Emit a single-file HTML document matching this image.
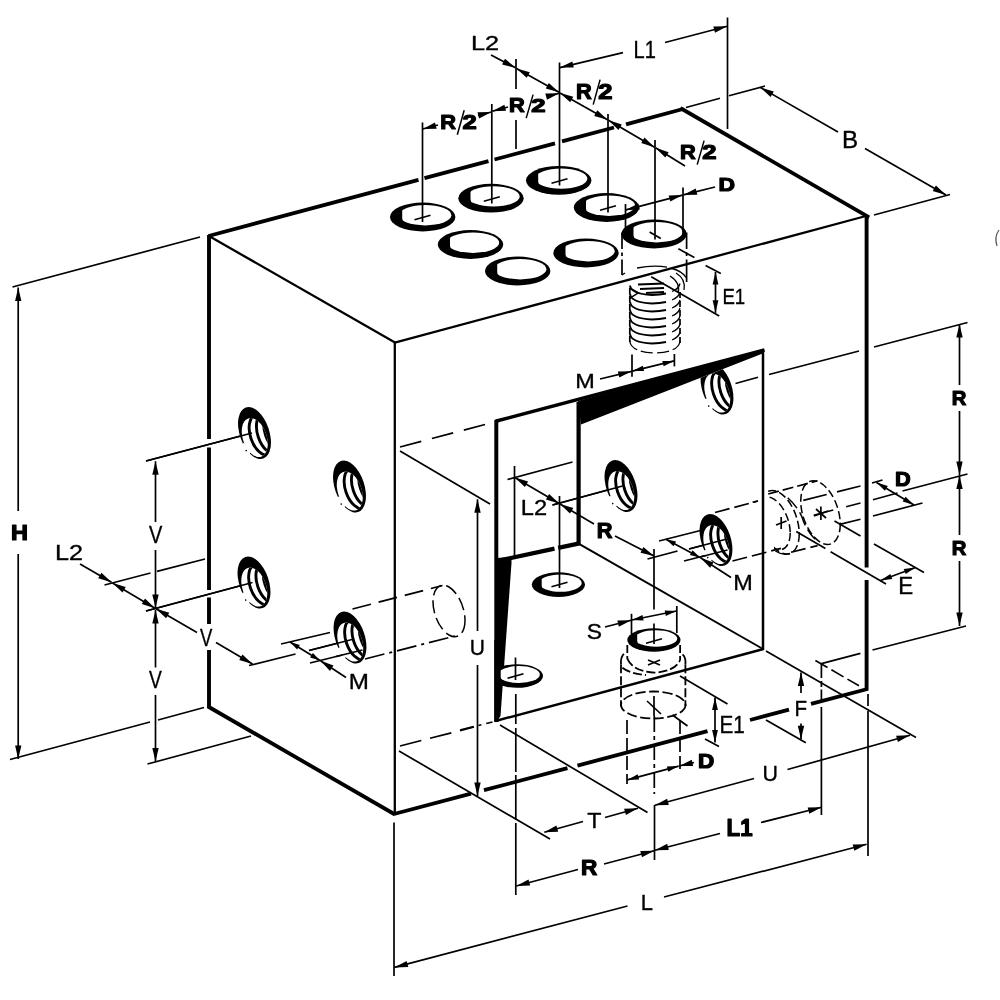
<!DOCTYPE html>
<html><head><meta charset="utf-8"><title>Manifold block dimensions</title>
<style>
html,body{margin:0;padding:0;background:#fff;}
svg{display:block;will-change:transform;font-family:"Liberation Sans",sans-serif;}
</style></head><body>
<svg width="1000" height="1000" viewBox="0 0 1000 1000" stroke="#000" fill="none">
<rect x="0" y="0" width="1000" height="1000" fill="#fff" stroke="none"/>
<line x1="208.5" y1="236.0" x2="418.5" y2="179.8" stroke-width="3.8" stroke-linecap="butt"/>
<line x1="424.5" y1="178.2" x2="488.5" y2="161.1" stroke-width="3.8" stroke-linecap="butt"/>
<line x1="494.5" y1="159.5" x2="555.0" y2="143.3" stroke-width="3.8" stroke-linecap="butt"/>
<line x1="562.0" y1="141.4" x2="614.0" y2="127.5" stroke-width="3.8" stroke-linecap="butt"/>
<line x1="626.0" y1="124.3" x2="683.0" y2="109.0" stroke-width="3.8" stroke-linecap="butt"/>
<line x1="682.0" y1="109.0" x2="867.5" y2="216.5" stroke-width="3.8" stroke-linecap="square"/>
<line x1="866.6" y1="215.0" x2="866.6" y2="567.5" stroke-width="3.9" stroke-linecap="butt"/>
<line x1="866.6" y1="580.0" x2="866.6" y2="690.5" stroke-width="3.9" stroke-linecap="butt"/>
<line x1="209.0" y1="235.0" x2="209.0" y2="439.0" stroke-width="3.9" stroke-linecap="butt"/>
<line x1="209.0" y1="447.5" x2="209.0" y2="590.0" stroke-width="3.9" stroke-linecap="butt"/>
<line x1="209.0" y1="597.5" x2="209.0" y2="624.0" stroke-width="3.9" stroke-linecap="butt"/>
<line x1="209.0" y1="650.0" x2="209.0" y2="708.0" stroke-width="3.9" stroke-linecap="butt"/>
<line x1="208.0" y1="706.5" x2="395.0" y2="814.5" stroke-width="3.8" stroke-linecap="butt"/>
<line x1="394.0" y1="814.0" x2="471.0" y2="793.7" stroke-width="3.8" stroke-linecap="butt"/>
<line x1="484.0" y1="790.2" x2="567.5" y2="768.2" stroke-width="3.8" stroke-linecap="butt"/>
<line x1="577.5" y1="765.6" x2="707.5" y2="731.2" stroke-width="3.8" stroke-linecap="butt"/>
<line x1="750.0" y1="720.0" x2="789.0" y2="709.7" stroke-width="3.8" stroke-linecap="butt"/>
<line x1="811.0" y1="703.9" x2="867.5" y2="689.0" stroke-width="3.8" stroke-linecap="butt"/>
<line x1="209.0" y1="236.0" x2="395.0" y2="342.6" stroke-width="2.3" stroke-linecap="butt"/>
<line x1="394.8" y1="342.6" x2="866.0" y2="216.0" stroke-width="2.3" stroke-linecap="butt"/>
<line x1="394.8" y1="342.0" x2="394.8" y2="814.0" stroke-width="2.3" stroke-linecap="butt"/>
<line x1="495.5" y1="421.3" x2="764.5" y2="350.0" stroke-width="3.5" stroke-linecap="butt"/>
<line x1="496.3" y1="420.0" x2="496.3" y2="722.0" stroke-width="4.0" stroke-linecap="butt"/>
<line x1="763.0" y1="350.0" x2="763.0" y2="650.0" stroke-width="2.5" stroke-linecap="butt"/>
<line x1="495.5" y1="721.0" x2="763.5" y2="649.0" stroke-width="2.4" stroke-linecap="butt"/>
<line x1="578.6" y1="402.0" x2="578.6" y2="545.0" stroke-width="4.2" stroke-linecap="butt"/>
<line x1="497.0" y1="561.0" x2="554.5" y2="548.7" stroke-width="4.3" stroke-linecap="butt"/>
<line x1="558.2" y1="547.9" x2="579.5" y2="543.4" stroke-width="4.3" stroke-linecap="butt"/>
<line x1="579.0" y1="543.8" x2="763.0" y2="649.0" stroke-width="2.0" stroke-linecap="butt"/>
<polygon points="578,401 764,349.5 764,353 581,424.5" fill="#000" stroke="none"/>
<polygon points="497,558 511.5,557 511.5,563 500.5,716 497,721" fill="#000" stroke="none"/>
<line x1="400.0" y1="447.0" x2="492.5" y2="422.5" stroke-width="1.7" stroke-dasharray="22 11" stroke-linecap="butt"/>
<line x1="400.0" y1="746.0" x2="474.0" y2="727.0" stroke-width="1.7" stroke-dasharray="22 9" stroke-linecap="butt"/>
<line x1="460.0" y1="730.0" x2="492.5" y2="722.0" stroke-width="1.7" stroke-dasharray="14 5 3 5" stroke-linecap="butt"/>
<clipPath id="fh1"><path d="M402.2,201.6 L457.4,201.6 L457.4,225.9 L412.6,225.9 Q402.2,225.9 402.2,217.9 Z"/></clipPath>
<ellipse cx="422.7" cy="217.0" rx="32.7" ry="14.4" fill="#000" stroke="none"/>
<ellipse cx="425.2" cy="215.2" rx="26.2" ry="10.2" fill="#fff" stroke="none" clip-path="url(#fh1)"/>
<clipPath id="fh2"><path d="M470.5,182.8 L525.7,182.8 L525.7,207.1 L480.9,207.1 Q470.5,207.1 470.5,199.1 Z"/></clipPath>
<ellipse cx="491.0" cy="198.2" rx="32.7" ry="14.4" fill="#000" stroke="none"/>
<ellipse cx="493.5" cy="196.4" rx="26.2" ry="10.2" fill="#fff" stroke="none" clip-path="url(#fh2)"/>
<clipPath id="fh3"><path d="M538.2,165.0 L593.4,165.0 L593.4,189.3 L548.6,189.3 Q538.2,189.3 538.2,181.3 Z"/></clipPath>
<ellipse cx="558.7" cy="180.4" rx="32.7" ry="14.4" fill="#000" stroke="none"/>
<ellipse cx="561.2" cy="178.6" rx="26.2" ry="10.2" fill="#fff" stroke="none" clip-path="url(#fh3)"/>
<clipPath id="fh4"><path d="M586.0,192.1 L641.2,192.1 L641.2,216.4 L596.4,216.4 Q586.0,216.4 586.0,208.4 Z"/></clipPath>
<ellipse cx="606.5" cy="207.5" rx="32.7" ry="14.4" fill="#000" stroke="none"/>
<ellipse cx="609.0" cy="205.7" rx="26.2" ry="10.2" fill="#fff" stroke="none" clip-path="url(#fh4)"/>
<clipPath id="fh5"><path d="M450.0,229.1 L505.2,229.1 L505.2,253.4 L460.4,253.4 Q450.0,253.4 450.0,245.4 Z"/></clipPath>
<ellipse cx="470.5" cy="244.5" rx="32.7" ry="14.4" fill="#000" stroke="none"/>
<ellipse cx="473.0" cy="242.7" rx="26.2" ry="10.2" fill="#fff" stroke="none" clip-path="url(#fh5)"/>
<clipPath id="fh6"><path d="M497.2,255.6 L552.4,255.6 L552.4,279.9 L507.6,279.9 Q497.2,279.9 497.2,271.9 Z"/></clipPath>
<ellipse cx="517.7" cy="271.0" rx="32.7" ry="14.4" fill="#000" stroke="none"/>
<ellipse cx="520.2" cy="269.2" rx="26.2" ry="10.2" fill="#fff" stroke="none" clip-path="url(#fh6)"/>
<clipPath id="fh7"><path d="M565.5,237.6 L620.7,237.6 L620.7,261.9 L575.9,261.9 Q565.5,261.9 565.5,253.9 Z"/></clipPath>
<ellipse cx="586.0" cy="253.0" rx="32.7" ry="14.4" fill="#000" stroke="none"/>
<ellipse cx="588.5" cy="251.2" rx="26.2" ry="10.2" fill="#fff" stroke="none" clip-path="url(#fh7)"/>
<clipPath id="fh8"><path d="M633.5,218.6 L688.7,218.6 L688.7,242.9 L643.9,242.9 Q633.5,242.9 633.5,234.9 Z"/></clipPath>
<ellipse cx="654.0" cy="234.0" rx="32.7" ry="14.4" fill="#000" stroke="none"/>
<ellipse cx="656.5" cy="232.2" rx="26.2" ry="10.2" fill="#fff" stroke="none" clip-path="url(#fh8)"/>
<clipPath id="fh9"><path d="M541.7,571.3 L587.0,571.3 L587.0,592.3 L550.2,592.3 Q541.7,592.3 541.7,585.8 Z"/></clipPath>
<ellipse cx="558.4" cy="584.6" rx="26.6" ry="12.3" fill="#000" stroke="none"/>
<ellipse cx="560.4" cy="583.1" rx="21.3" ry="8.7" fill="#fff" stroke="none" clip-path="url(#fh9)"/>
<clipPath id="fh10"><path d="M637.2,627.3 L682.5,627.3 L682.5,647.3 L645.7,647.3 Q637.2,647.3 637.2,640.8 Z"/></clipPath>
<ellipse cx="653.9" cy="640.0" rx="26.6" ry="11.7" fill="#000" stroke="none"/>
<ellipse cx="655.9" cy="638.5" rx="21.3" ry="8.3" fill="#fff" stroke="none" clip-path="url(#fh10)"/>
<clipPath id="jamb"><rect x="497" y="640" width="100" height="80"/></clipPath>
<g clip-path="url(#jamb)">
<clipPath id="fh11"><path d="M500.7,663.2 L545.0,663.2 L545.0,683.4 L509.0,683.4 Q500.7,683.4 500.7,677.0 Z"/></clipPath>
<ellipse cx="517.0" cy="676.0" rx="26.0" ry="11.8" fill="#000" stroke="none"/>
<ellipse cx="519.0" cy="674.5" rx="20.8" ry="8.4" fill="#fff" stroke="none" clip-path="url(#fh11)"/>
</g>
<line x1="496.3" y1="640.0" x2="496.3" y2="722.0" stroke-width="4.0" stroke-linecap="butt"/>
<line x1="422.5" y1="122.5" x2="422.5" y2="222.0" stroke-width="1.7" stroke-linecap="butt"/>
<line x1="491.8" y1="104.0" x2="491.8" y2="203.5" stroke-width="1.7" stroke-linecap="butt"/>
<line x1="516.0" y1="59.0" x2="516.0" y2="89.0" stroke-width="1.7" stroke-linecap="butt"/>
<line x1="516.0" y1="120.0" x2="516.0" y2="149.0" stroke-width="1.7" stroke-linecap="butt"/>
<line x1="559.5" y1="62.5" x2="559.5" y2="185.5" stroke-width="1.7" stroke-linecap="butt"/>
<line x1="608.0" y1="114.0" x2="608.0" y2="212.5" stroke-width="1.7" stroke-linecap="butt"/>
<line x1="655.0" y1="140.0" x2="655.0" y2="239.5" stroke-width="1.7" stroke-linecap="butt"/>
<line x1="727.5" y1="17.5" x2="727.5" y2="129.0" stroke-width="1.7" stroke-linecap="butt"/>
<line x1="414.5" y1="219.7" x2="430.5" y2="215.3" stroke-width="1.7" stroke-linecap="butt"/>
<line x1="483.8" y1="201.2" x2="499.8" y2="196.8" stroke-width="1.7" stroke-linecap="butt"/>
<line x1="551.5" y1="183.2" x2="567.5" y2="178.8" stroke-width="1.7" stroke-linecap="butt"/>
<line x1="600.0" y1="210.2" x2="616.0" y2="205.8" stroke-width="1.7" stroke-linecap="butt"/>
<line x1="491.0" y1="55.0" x2="515.5" y2="67.8" stroke-width="1.7" stroke-linecap="butt"/>
<polygon points="515.5,67.8 502.1,64.4 505.0,58.7" fill="#000" stroke="none"/>
<line x1="516.5" y1="68.4" x2="559.0" y2="92.3" stroke-width="1.7" stroke-linecap="butt"/>
<polygon points="516.5,68.4 529.8,72.2 526.7,77.8" fill="#000" stroke="none"/>
<polygon points="559.0,92.3 545.7,88.5 548.8,82.9" fill="#000" stroke="none"/>
<line x1="560.0" y1="92.9" x2="607.5" y2="119.7" stroke-width="1.7" stroke-linecap="butt"/>
<polygon points="560.0,92.9 573.3,96.7 570.2,102.3" fill="#000" stroke="none"/>
<polygon points="607.5,119.7 594.2,115.9 597.3,110.3" fill="#000" stroke="none"/>
<line x1="608.5" y1="120.3" x2="654.5" y2="147.2" stroke-width="1.7" stroke-linecap="butt"/>
<polygon points="608.5,120.3 621.8,124.4 618.5,129.9" fill="#000" stroke="none"/>
<polygon points="654.5,147.2 641.2,143.1 644.5,137.6" fill="#000" stroke="none"/>
<line x1="685.0" y1="166.0" x2="655.5" y2="147.8" stroke-width="1.7" stroke-linecap="butt"/>
<polygon points="655.5,147.8 668.7,152.2 665.3,157.6" fill="#000" stroke="none"/>
<line x1="438.0" y1="125.0" x2="422.8" y2="129.0" stroke-width="1.7" stroke-linecap="butt"/>
<polygon points="422.8,129.0 435.0,122.5 436.7,128.7" fill="#000" stroke="none"/>
<line x1="478.0" y1="115.5" x2="491.4" y2="112.0" stroke-width="1.7" stroke-linecap="butt"/>
<polygon points="491.4,112.0 479.1,118.5 477.5,112.3" fill="#000" stroke="none"/>
<line x1="508.0" y1="107.0" x2="492.2" y2="111.3" stroke-width="1.7" stroke-linecap="butt"/>
<polygon points="492.2,111.3 504.4,104.7 506.1,110.8" fill="#000" stroke="none"/>
<line x1="547.0" y1="96.5" x2="559.2" y2="93.2" stroke-width="1.7" stroke-linecap="butt"/>
<polygon points="559.2,93.2 547.0,99.8 545.3,93.6" fill="#000" stroke="none"/>
<line x1="623.0" y1="52.6" x2="559.9" y2="67.6" stroke-width="1.7" stroke-linecap="butt"/>
<polygon points="559.9,67.6 572.3,61.4 573.8,67.6" fill="#000" stroke="none"/>
<line x1="665.0" y1="42.5" x2="727.2" y2="26.2" stroke-width="1.7" stroke-linecap="butt"/>
<polygon points="727.2,26.2 715.0,32.7 713.3,26.5" fill="#000" stroke="none"/>
<line x1="686.0" y1="107.5" x2="720.0" y2="98.2" stroke-width="1.7" stroke-linecap="butt"/>
<line x1="729.0" y1="95.8" x2="765.0" y2="86.0" stroke-width="1.7" stroke-linecap="butt"/>
<line x1="838.0" y1="132.0" x2="760.5" y2="87.5" stroke-width="1.7" stroke-linecap="butt"/>
<polygon points="760.5,87.5 773.8,91.4 770.6,97.0" fill="#000" stroke="none"/>
<line x1="865.0" y1="148.5" x2="946.0" y2="195.0" stroke-width="1.7" stroke-linecap="butt"/>
<polygon points="946.0,195.0 932.7,191.1 935.9,185.5" fill="#000" stroke="none"/>
<line x1="874.0" y1="215.0" x2="950.0" y2="194.5" stroke-width="1.7" stroke-linecap="butt"/>
<line x1="625.5" y1="204.0" x2="625.5" y2="237.0" stroke-width="1.7" stroke-linecap="butt"/>
<line x1="683.0" y1="187.5" x2="683.0" y2="237.0" stroke-width="1.7" stroke-linecap="butt"/>
<line x1="625.9" y1="209.9" x2="682.6" y2="195.1" stroke-width="1.7" stroke-linecap="butt"/>
<polygon points="625.9,209.9 638.2,203.4 639.8,209.6" fill="#000" stroke="none"/>
<polygon points="682.6,195.1 670.3,201.6 668.7,195.4" fill="#000" stroke="none"/>
<line x1="715.0" y1="187.0" x2="683.4" y2="194.9" stroke-width="1.7" stroke-linecap="butt"/>
<polygon points="683.4,194.9 695.7,188.5 697.3,194.7" fill="#000" stroke="none"/>
<line x1="12.5" y1="287.0" x2="200.0" y2="237.0" stroke-width="1.7" stroke-linecap="butt"/>
<line x1="18.2" y1="511.0" x2="18.2" y2="287.5" stroke-width="1.7" stroke-linecap="butt"/>
<polygon points="18.2,287.5 21.4,301.0 15.1,301.0" fill="#000" stroke="none"/>
<line x1="18.2" y1="554.0" x2="18.2" y2="759.0" stroke-width="1.7" stroke-linecap="butt"/>
<polygon points="18.2,759.0 15.1,745.5 21.4,745.5" fill="#000" stroke="none"/>
<line x1="10.0" y1="759.5" x2="150.0" y2="722.0" stroke-width="1.7" stroke-linecap="butt"/>
<line x1="158.0" y1="720.0" x2="204.0" y2="707.5" stroke-width="1.7" stroke-linecap="butt"/>
<line x1="146.0" y1="461.0" x2="252.0" y2="433.0" stroke-width="1.7" stroke-linecap="butt"/>
<line x1="155.5" y1="522.0" x2="155.5" y2="461.3" stroke-width="1.7" stroke-linecap="butt"/>
<polygon points="155.5,461.3 158.7,474.8 152.3,474.8" fill="#000" stroke="none"/>
<line x1="155.5" y1="550.0" x2="155.5" y2="608.0" stroke-width="1.7" stroke-linecap="butt"/>
<polygon points="155.5,608.0 152.3,594.5 158.7,594.5" fill="#000" stroke="none"/>
<line x1="104.5" y1="585.0" x2="150.5" y2="573.0" stroke-width="1.7" stroke-linecap="butt"/>
<line x1="157.0" y1="571.4" x2="205.0" y2="559.0" stroke-width="1.7" stroke-linecap="butt"/>
<line x1="146.0" y1="611.0" x2="252.5" y2="582.5" stroke-width="1.7" stroke-linecap="butt"/>
<line x1="155.5" y1="667.5" x2="155.5" y2="610.0" stroke-width="1.7" stroke-linecap="butt"/>
<polygon points="155.5,610.0 158.7,623.5 152.3,623.5" fill="#000" stroke="none"/>
<line x1="155.5" y1="695.0" x2="155.5" y2="761.5" stroke-width="1.7" stroke-linecap="butt"/>
<polygon points="155.5,761.5 152.3,748.0 158.7,748.0" fill="#000" stroke="none"/>
<line x1="147.5" y1="764.0" x2="251.0" y2="736.0" stroke-width="1.7" stroke-linecap="butt"/>
<line x1="80.0" y1="564.0" x2="111.5" y2="582.3" stroke-width="1.7" stroke-linecap="butt"/>
<polygon points="111.5,582.3 98.2,578.3 101.4,572.8" fill="#000" stroke="none"/>
<line x1="112.5" y1="582.9" x2="155.0" y2="608.2" stroke-width="1.7" stroke-linecap="butt"/>
<polygon points="112.5,582.9 125.7,587.1 122.5,592.6" fill="#000" stroke="none"/>
<polygon points="155.0,608.2 141.8,604.0 145.0,598.5" fill="#000" stroke="none"/>
<line x1="197.0" y1="632.5" x2="156.0" y2="608.8" stroke-width="1.7" stroke-linecap="butt"/>
<polygon points="156.0,608.8 169.3,612.8 166.1,618.3" fill="#000" stroke="none"/>
<line x1="216.0" y1="642.5" x2="252.5" y2="664.0" stroke-width="1.7" stroke-linecap="butt"/>
<polygon points="252.5,664.0 239.2,659.9 242.5,654.4" fill="#000" stroke="none"/>
<line x1="281.0" y1="644.0" x2="330.0" y2="632.5" stroke-width="1.7" stroke-linecap="butt"/>
<line x1="249.0" y1="665.5" x2="295.5" y2="654.0" stroke-width="1.7" stroke-linecap="butt"/>
<line x1="309.0" y1="650.5" x2="360.0" y2="637.5" stroke-width="1.7" stroke-linecap="butt"/>
<line x1="310.0" y1="663.0" x2="362.5" y2="650.0" stroke-width="1.7" stroke-linecap="butt"/>
<line x1="290.0" y1="642.0" x2="320.0" y2="660.5" stroke-width="1.7" stroke-linecap="butt"/>
<polygon points="290.0,642.0 299.9,645.0 297.1,649.5" fill="#000" stroke="none"/>
<polygon points="320.0,660.5 310.1,657.5 312.9,653.0" fill="#000" stroke="none"/>
<line x1="346.0" y1="677.5" x2="320.5" y2="660.8" stroke-width="1.7" stroke-linecap="butt"/>
<polygon points="320.5,660.8 333.5,665.5 330.0,670.9" fill="#000" stroke="none"/>
<line x1="352.5" y1="609.0" x2="442.5" y2="585.5" stroke-width="1.7" stroke-dasharray="19 8" stroke-linecap="butt"/>
<line x1="365.0" y1="659.0" x2="455.0" y2="636.0" stroke-width="1.7" stroke-dasharray="20 5 3 5" stroke-linecap="butt"/>
<ellipse cx="0" cy="0" rx="24" ry="24" transform="matrix(0.667,0.385,0,1,449,611)" fill="none" stroke-width="1.5" stroke-dasharray="13 5" vector-effect="non-scaling-stroke"/>
<line x1="400.0" y1="451.0" x2="490.0" y2="504.0" stroke-width="1.7" stroke-linecap="butt"/>
<line x1="477.5" y1="631.0" x2="477.5" y2="499.3" stroke-width="1.7" stroke-linecap="butt"/>
<polygon points="477.5,499.3 480.7,512.8 474.3,512.8" fill="#000" stroke="none"/>
<line x1="477.5" y1="665.0" x2="477.5" y2="796.0" stroke-width="1.7" stroke-linecap="butt"/>
<polygon points="477.5,796.0 474.3,782.5 480.7,782.5" fill="#000" stroke="none"/>
<line x1="399.0" y1="751.0" x2="550.0" y2="839.0" stroke-width="1.7" stroke-linecap="butt"/>
<line x1="514.5" y1="466.0" x2="514.5" y2="556.0" stroke-width="1.7" stroke-linecap="butt"/>
<line x1="507.5" y1="479.5" x2="572.5" y2="462.0" stroke-width="1.7" stroke-linecap="butt"/>
<line x1="559.5" y1="496.0" x2="559.5" y2="588.0" stroke-width="1.7" stroke-linecap="butt"/>
<line x1="552.5" y1="505.0" x2="622.5" y2="486.0" stroke-width="1.7" stroke-linecap="butt"/>
<line x1="514.8" y1="477.6" x2="559.2" y2="503.4" stroke-width="1.7" stroke-linecap="butt"/>
<polygon points="514.8,477.6 528.1,481.6 524.9,487.1" fill="#000" stroke="none"/>
<polygon points="559.2,503.4 545.9,499.4 549.1,493.9" fill="#000" stroke="none"/>
<line x1="594.0" y1="524.0" x2="560.0" y2="504.0" stroke-width="1.7" stroke-linecap="butt"/>
<polygon points="560.0,504.0 573.3,508.1 570.0,513.6" fill="#000" stroke="none"/>
<line x1="615.0" y1="536.0" x2="654.0" y2="556.0" stroke-width="1.7" stroke-linecap="butt"/>
<polygon points="654.0,556.0 640.5,552.7 643.4,547.0" fill="#000" stroke="none"/>
<line x1="647.5" y1="559.0" x2="677.5" y2="551.0" stroke-width="1.7" stroke-linecap="butt"/>
<line x1="689.0" y1="549.0" x2="725.0" y2="539.5" stroke-width="1.7" stroke-linecap="butt"/>
<line x1="654.0" y1="549.0" x2="654.0" y2="609.6" stroke-width="1.7" stroke-linecap="butt"/>
<line x1="654.0" y1="623.6" x2="654.0" y2="644.0" stroke-width="1.7" stroke-linecap="butt"/>
<line x1="551.5" y1="586.7" x2="567.5" y2="582.3" stroke-width="1.7" stroke-linecap="butt"/>
<line x1="646.0" y1="643.2" x2="662.0" y2="638.8" stroke-width="1.7" stroke-linecap="butt"/>
<line x1="515.5" y1="657.5" x2="515.5" y2="680.0" stroke-width="1.7" stroke-linecap="butt"/>
<line x1="507.5" y1="678.2" x2="523.5" y2="673.8" stroke-width="1.7" stroke-linecap="butt"/>
<line x1="659.0" y1="541.0" x2="702.5" y2="530.0" stroke-width="1.7" stroke-linecap="butt"/>
<line x1="684.0" y1="561.0" x2="727.5" y2="550.0" stroke-width="1.7" stroke-linecap="butt"/>
<line x1="666.0" y1="539.2" x2="700.0" y2="557.4" stroke-width="1.7" stroke-linecap="butt"/>
<polygon points="666.0,539.2 676.1,541.5 673.5,546.3" fill="#000" stroke="none"/>
<polygon points="700.0,557.4 689.9,555.1 692.5,550.3" fill="#000" stroke="none"/>
<line x1="731.0" y1="577.5" x2="700.5" y2="557.7" stroke-width="1.7" stroke-linecap="butt"/>
<polygon points="700.5,557.7 713.6,562.4 710.1,567.7" fill="#000" stroke="none"/>
<g>
<g transform="translate(254.5,433.0) rotate(-18.8)">
<clipPath id="tw1"><ellipse cx="-1.2" cy="4.4" rx="11.9" ry="20.2"/></clipPath>
<ellipse rx="14.76" ry="26.97" fill="#000" stroke="none"/>
<ellipse cx="-1.2" cy="4.4" rx="11.9" ry="20.2" fill="#fff" stroke="none"/>
<g clip-path="url(#tw1)" fill="none" stroke="#000" stroke-width="2.9">
<ellipse cx="6.8" cy="4.3" rx="11.9" ry="21.2"/>
<ellipse cx="14.2" cy="5.2" rx="11.9" ry="21.2"/>
<ellipse cx="21.6" cy="6.1" rx="11.9" ry="21.2"/>
</g>
<path d="M-14.4,6.1 L-13.2,12.2 L-11.1,17.7" stroke="#fff" stroke-width="3" fill="none"/>
<circle cx="-13.5" cy="14" r="0.8" fill="#000" stroke="none"/>
</g></g>
<g>
<g transform="translate(349.5,486.5) rotate(-18.8)">
<clipPath id="tw2"><ellipse cx="-1.2" cy="4.4" rx="11.9" ry="20.2"/></clipPath>
<ellipse rx="14.76" ry="26.97" fill="#000" stroke="none"/>
<ellipse cx="-1.2" cy="4.4" rx="11.9" ry="20.2" fill="#fff" stroke="none"/>
<g clip-path="url(#tw2)" fill="none" stroke="#000" stroke-width="2.9">
<ellipse cx="6.8" cy="4.3" rx="11.9" ry="21.2"/>
<ellipse cx="14.2" cy="5.2" rx="11.9" ry="21.2"/>
<ellipse cx="21.6" cy="6.1" rx="11.9" ry="21.2"/>
</g>
<path d="M-14.4,6.1 L-13.2,12.2 L-11.1,17.7" stroke="#fff" stroke-width="3" fill="none"/>
<circle cx="-13.5" cy="14" r="0.8" fill="#000" stroke="none"/>
</g></g>
<g>
<g transform="translate(254.0,582.5) rotate(-18.8)">
<clipPath id="tw3"><ellipse cx="-1.2" cy="4.4" rx="11.9" ry="20.2"/></clipPath>
<ellipse rx="14.76" ry="26.97" fill="#000" stroke="none"/>
<ellipse cx="-1.2" cy="4.4" rx="11.9" ry="20.2" fill="#fff" stroke="none"/>
<g clip-path="url(#tw3)" fill="none" stroke="#000" stroke-width="2.9">
<ellipse cx="6.8" cy="4.3" rx="11.9" ry="21.2"/>
<ellipse cx="14.2" cy="5.2" rx="11.9" ry="21.2"/>
<ellipse cx="21.6" cy="6.1" rx="11.9" ry="21.2"/>
</g>
<path d="M-14.4,6.1 L-13.2,12.2 L-11.1,17.7" stroke="#fff" stroke-width="3" fill="none"/>
<circle cx="-13.5" cy="14" r="0.8" fill="#000" stroke="none"/>
</g></g>
<g>
<g transform="translate(350.0,637.5) rotate(-18.8)">
<clipPath id="tw4"><ellipse cx="-1.2" cy="4.4" rx="11.9" ry="20.2"/></clipPath>
<ellipse rx="14.76" ry="26.97" fill="#000" stroke="none"/>
<ellipse cx="-1.2" cy="4.4" rx="11.9" ry="20.2" fill="#fff" stroke="none"/>
<g clip-path="url(#tw4)" fill="none" stroke="#000" stroke-width="2.9">
<ellipse cx="6.8" cy="4.3" rx="11.9" ry="21.2"/>
<ellipse cx="14.2" cy="5.2" rx="11.9" ry="21.2"/>
<ellipse cx="21.6" cy="6.1" rx="11.9" ry="21.2"/>
</g>
<path d="M-14.4,6.1 L-13.2,12.2 L-11.1,17.7" stroke="#fff" stroke-width="3" fill="none"/>
<circle cx="-13.5" cy="14" r="0.8" fill="#000" stroke="none"/>
</g></g>
<g>
<g transform="translate(621.0,486.0) rotate(-18.8)">
<clipPath id="tw5"><ellipse cx="-1.2" cy="4.4" rx="11.9" ry="20.2"/></clipPath>
<ellipse rx="14.76" ry="26.97" fill="#000" stroke="none"/>
<ellipse cx="-1.2" cy="4.4" rx="11.9" ry="20.2" fill="#fff" stroke="none"/>
<g clip-path="url(#tw5)" fill="none" stroke="#000" stroke-width="2.9">
<ellipse cx="6.8" cy="4.3" rx="11.9" ry="21.2"/>
<ellipse cx="14.2" cy="5.2" rx="11.9" ry="21.2"/>
<ellipse cx="21.6" cy="6.1" rx="11.9" ry="21.2"/>
</g>
<path d="M-14.4,6.1 L-13.2,12.2 L-11.1,17.7" stroke="#fff" stroke-width="3" fill="none"/>
<circle cx="-13.5" cy="14" r="0.8" fill="#000" stroke="none"/>
</g></g>
<g>
<g transform="translate(716.0,540.0) rotate(-18.8)">
<clipPath id="tw6"><ellipse cx="-1.2" cy="4.4" rx="11.9" ry="20.2"/></clipPath>
<ellipse rx="14.76" ry="26.97" fill="#000" stroke="none"/>
<ellipse cx="-1.2" cy="4.4" rx="11.9" ry="20.2" fill="#fff" stroke="none"/>
<g clip-path="url(#tw6)" fill="none" stroke="#000" stroke-width="2.9">
<ellipse cx="6.8" cy="4.3" rx="11.9" ry="21.2"/>
<ellipse cx="14.2" cy="5.2" rx="11.9" ry="21.2"/>
<ellipse cx="21.6" cy="6.1" rx="11.9" ry="21.2"/>
</g>
<path d="M-14.4,6.1 L-13.2,12.2 L-11.1,17.7" stroke="#fff" stroke-width="3" fill="none"/>
<circle cx="-13.5" cy="14" r="0.8" fill="#000" stroke="none"/>
</g></g>
<clipPath id="wedgeclip"><polygon points="690,381.9 750,358.5 750,430 690,430"/></clipPath>
<g clip-path="url(#wedgeclip)">
<g transform="translate(717.0,388.5) rotate(-18.8)">
<clipPath id="tw7"><ellipse cx="-1.2" cy="4.4" rx="11.9" ry="20.2"/></clipPath>
<ellipse rx="14.76" ry="26.97" fill="#000" stroke="none"/>
<ellipse cx="-1.2" cy="4.4" rx="11.9" ry="20.2" fill="#fff" stroke="none"/>
<g clip-path="url(#tw7)" fill="none" stroke="#000" stroke-width="2.9">
<ellipse cx="6.8" cy="4.3" rx="11.9" ry="21.2"/>
<ellipse cx="14.2" cy="5.2" rx="11.9" ry="21.2"/>
<ellipse cx="21.6" cy="6.1" rx="11.9" ry="21.2"/>
</g>
<path d="M-14.4,6.1 L-13.2,12.2 L-11.1,17.7" stroke="#fff" stroke-width="3" fill="none"/>
<circle cx="-13.5" cy="14" r="0.8" fill="#000" stroke="none"/>
</g></g>
<line x1="146.0" y1="461.0" x2="252.0" y2="433.0" stroke-width="1.7" stroke-linecap="butt"/>
<line x1="146.0" y1="611.0" x2="252.5" y2="582.5" stroke-width="1.7" stroke-linecap="butt"/>
<line x1="309.0" y1="650.5" x2="352.0" y2="639.5" stroke-width="1.7" stroke-linecap="butt"/>
<line x1="552.5" y1="505.0" x2="622.5" y2="486.0" stroke-width="1.7" stroke-linecap="butt"/>
<line x1="689.0" y1="549.0" x2="725.0" y2="539.5" stroke-width="1.7" stroke-linecap="butt"/>
<line x1="700.0" y1="557.0" x2="727.5" y2="550.0" stroke-width="1.7" stroke-linecap="butt"/>
<line x1="336.0" y1="656.5" x2="362.5" y2="650.0" stroke-width="1.7" stroke-linecap="butt"/>
<line x1="715.0" y1="512.5" x2="758.0" y2="501.0" stroke-width="1.7" stroke-dasharray="15 5" stroke-linecap="butt"/>
<line x1="768.2" y1="494.0" x2="817.6" y2="480.8" stroke-width="1.7" stroke-dasharray="11 4" stroke-linecap="butt"/>
<line x1="732.5" y1="561.0" x2="781.0" y2="548.4" stroke-width="1.7" stroke-dasharray="15 5" stroke-linecap="butt"/>
<line x1="791.0" y1="552.3" x2="817.6" y2="545.6" stroke-width="1.7" stroke-dasharray="15 5" stroke-linecap="butt"/>
<circle r="29.7" transform="matrix(0.665,0.39,0,1,820.5,512.6)" fill="none" stroke-width="1.5" stroke-dasharray="8 3.5" vector-effect="non-scaling-stroke"/>
<clipPath id="bclip"><polygon points="768,480 810,480 810,560 774,560 774,535 768,535"/></clipPath>
<g clip-path="url(#bclip)"><circle r="29.7" transform="matrix(0.665,0.39,0,1,779.5,522.3)" fill="none" stroke-width="1.5" stroke-dasharray="8 3.5" vector-effect="non-scaling-stroke"/>
<circle r="24.6" transform="matrix(0.68,0.39,0,1,773.5,523.5)" fill="none" stroke-width="1.5" stroke-dasharray="8 3.5" vector-effect="non-scaling-stroke"/></g>
<path d="M790,553.4 Q782,555.5 775.4,551" fill="none" stroke-width="1.5"/>
<path d="M787.7,497.7 Q797,506 802,517 Q806,530 815,539.3" fill="none" stroke-width="1.5" stroke-dasharray="14 5"/>
<line x1="776.0" y1="525.0" x2="786.5" y2="521.0" stroke-width="1.7" stroke-linecap="butt"/>
<line x1="781.2" y1="517.0" x2="781.2" y2="529.0" stroke-width="1.7" stroke-linecap="butt"/>
<line x1="814.0" y1="516.0" x2="828.0" y2="511.0" stroke-width="1.7" stroke-linecap="butt"/>
<line x1="820.9" y1="506.5" x2="820.9" y2="520.0" stroke-width="1.7" stroke-linecap="butt"/>
<line x1="816.0" y1="509.0" x2="826.0" y2="518.0" stroke-width="1.7" stroke-linecap="butt"/>
<line x1="735.5" y1="383.5" x2="758.0" y2="377.3" stroke-width="1.7" stroke-linecap="butt"/>
<line x1="769.0" y1="374.5" x2="859.0" y2="351.0" stroke-width="1.7" stroke-linecap="butt"/>
<line x1="874.0" y1="347.0" x2="967.5" y2="322.5" stroke-width="1.7" stroke-linecap="butt"/>
<line x1="752.6" y1="502.3" x2="757.8" y2="501.0" stroke-width="1.7" stroke-linecap="butt"/>
<line x1="803.3" y1="500.3" x2="826.7" y2="494.5" stroke-width="1.7" stroke-linecap="butt"/>
<line x1="837.0" y1="491.9" x2="860.5" y2="486.0" stroke-width="1.7" stroke-linecap="butt"/>
<line x1="872.0" y1="483.0" x2="882.5" y2="480.0" stroke-width="1.7" stroke-linecap="butt"/>
<line x1="813.7" y1="515.3" x2="833.2" y2="510.0" stroke-width="1.7" stroke-linecap="butt"/>
<line x1="846.2" y1="506.8" x2="860.5" y2="503.0" stroke-width="1.7" stroke-linecap="butt"/>
<line x1="873.0" y1="499.7" x2="897.5" y2="493.0" stroke-width="1.7" stroke-linecap="butt"/>
<line x1="839.7" y1="524.4" x2="860.5" y2="519.2" stroke-width="1.7" stroke-linecap="butt"/>
<line x1="873.0" y1="516.0" x2="922.5" y2="503.0" stroke-width="1.7" stroke-linecap="butt"/>
<line x1="902.5" y1="491.0" x2="967.5" y2="474.0" stroke-width="1.7" stroke-linecap="butt"/>
<line x1="876.5" y1="482.4" x2="914.0" y2="505.0" stroke-width="1.7" stroke-linecap="butt"/>
<polygon points="876.5,482.4 887.8,485.9 884.9,490.7" fill="#000" stroke="none"/>
<polygon points="914.0,505.0 902.7,501.5 905.6,496.7" fill="#000" stroke="none"/>
<line x1="834.5" y1="521.0" x2="860.5" y2="536.0" stroke-width="1.7" stroke-linecap="butt"/>
<line x1="874.0" y1="544.0" x2="924.0" y2="572.5" stroke-width="1.7" stroke-linecap="butt"/>
<line x1="796.2" y1="531.5" x2="825.4" y2="548.4" stroke-width="1.7" stroke-linecap="butt"/>
<line x1="830.6" y1="551.7" x2="886.0" y2="584.0" stroke-width="1.7" stroke-linecap="butt"/>
<line x1="880.5" y1="580.5" x2="915.5" y2="567.5" stroke-width="1.7" stroke-linecap="butt"/>
<polygon points="880.5,580.5 890.3,573.9 892.3,579.1" fill="#000" stroke="none"/>
<polygon points="915.5,567.5 905.7,574.1 903.7,568.9" fill="#000" stroke="none"/>
<line x1="959.5" y1="385.0" x2="959.5" y2="324.0" stroke-width="1.7" stroke-linecap="butt"/>
<polygon points="959.5,324.0 962.7,337.5 956.3,337.5" fill="#000" stroke="none"/>
<line x1="959.5" y1="411.0" x2="959.5" y2="475.0" stroke-width="1.7" stroke-linecap="butt"/>
<polygon points="959.5,475.0 956.3,461.5 962.7,461.5" fill="#000" stroke="none"/>
<line x1="959.5" y1="535.0" x2="959.5" y2="475.5" stroke-width="1.7" stroke-linecap="butt"/>
<polygon points="959.5,475.5 962.7,489.0 956.3,489.0" fill="#000" stroke="none"/>
<line x1="959.5" y1="561.0" x2="959.5" y2="626.0" stroke-width="1.7" stroke-linecap="butt"/>
<polygon points="959.5,626.0 956.3,612.5 962.7,612.5" fill="#000" stroke="none"/>
<line x1="872.5" y1="650.0" x2="966.0" y2="626.0" stroke-width="1.7" stroke-linecap="butt"/>
<line x1="821.4" y1="663.6" x2="860.4" y2="653.4" stroke-width="1.7" stroke-linecap="butt"/>
<line x1="622.0" y1="232.5" x2="622.0" y2="275.0" stroke-width="1.7" stroke-dasharray="16.5 3.5 3.5 3.5 30 0" stroke-linecap="butt"/>
<line x1="686.6" y1="232.5" x2="686.6" y2="282.0" stroke-width="1.7" stroke-dasharray="16.5 3.5 3.5 3.5 30 0" stroke-linecap="butt"/>
<path d="M622,275 l3,-2 M637,268 Q654,264.6 667,267.2 M672,268.5 Q682,271 686.6,278" fill="none" stroke-width="1.3"/>
<path d="M676,273 Q686,279 684,290 M670,276 Q681,283 678,293" fill="none" stroke-width="1.3"/>
<path d="M630,285.5 Q631,294.0 652,295.0 Q660,294.8 666,293.5" fill="none" stroke-width="2.0"/>
<path d="M672,291.5 Q679,288.5 680,283.5" fill="none" stroke-width="1.3"/>
<path d="M630,294 Q631,302.5 652,303.5 Q660,303.3 666,302" fill="none" stroke-width="2.0"/>
<path d="M672,300 Q679,297 680,292" fill="none" stroke-width="1.3"/>
<path d="M630,302 Q631,310.5 652,311.5 Q660,311.3 666,310" fill="none" stroke-width="2.0"/>
<path d="M672,308 Q679,305 680,300" fill="none" stroke-width="1.3"/>
<path d="M630,310 Q631,318.5 652,319.5 Q660,319.3 666,318" fill="none" stroke-width="2.0"/>
<path d="M672,316 Q679,313 680,308" fill="none" stroke-width="1.3"/>
<path d="M630,318 Q631,326.5 652,327.5 Q660,327.3 666,326" fill="none" stroke-width="2.0"/>
<path d="M672,324 Q679,321 680,316" fill="none" stroke-width="1.3"/>
<path d="M630,326 Q631,334.5 652,335.5 Q660,335.3 666,334" fill="none" stroke-width="2.0"/>
<path d="M672,332 Q679,329 680,324" fill="none" stroke-width="1.3"/>
<path d="M630,334 Q631,342.5 652,343.5 Q660,343.3 666,342" fill="none" stroke-width="2.0"/>
<path d="M672,340 Q679,337 680,332" fill="none" stroke-width="1.3"/>
<line x1="629.8" y1="288.0" x2="629.8" y2="343.0" stroke-width="1.7" stroke-dasharray="6 2" stroke-linecap="butt"/>
<line x1="680.0" y1="292.0" x2="680.0" y2="343.0" stroke-width="1.7" stroke-dasharray="6 3" stroke-linecap="butt"/>
<path d="M629.8,341 Q631,352 654.8,353 Q679,352 680,341" fill="none" stroke-width="1.3" stroke-dasharray="12 4"/>
<path d="M629.6,288 L638.4,292.8 L629.6,298.4" fill="none" stroke-width="1.5"/>
<line x1="638.0" y1="284.6" x2="664.0" y2="283.4" stroke-width="2.0" stroke-linecap="butt"/>
<line x1="640.0" y1="289.1" x2="664.0" y2="287.9" stroke-width="2.0" stroke-linecap="butt"/>
<line x1="646.0" y1="293.1" x2="664.0" y2="291.9" stroke-width="2.0" stroke-linecap="butt"/>
<line x1="649.6" y1="232.0" x2="660.8" y2="238.4" stroke-width="1.7" stroke-linecap="butt"/>
<line x1="632.0" y1="354.4" x2="632.0" y2="376.8" stroke-width="1.7" stroke-linecap="butt"/>
<line x1="674.4" y1="354.0" x2="674.4" y2="366.4" stroke-width="1.7" stroke-linecap="butt"/>
<line x1="632.3" y1="371.1" x2="674.1" y2="360.9" stroke-width="1.7" stroke-linecap="butt"/>
<polygon points="632.3,371.1 642.8,365.7 644.1,371.1" fill="#000" stroke="none"/>
<polygon points="674.1,360.9 663.6,366.3 662.3,360.9" fill="#000" stroke="none"/>
<line x1="600.0" y1="379.0" x2="631.7" y2="371.3" stroke-width="1.7" stroke-linecap="butt"/>
<polygon points="631.7,371.3 619.3,377.6 617.8,371.4" fill="#000" stroke="none"/>
<line x1="678.4" y1="248.8" x2="694.4" y2="257.6" stroke-width="1.7" stroke-linecap="butt"/>
<line x1="705.6" y1="265.6" x2="720.8" y2="273.6" stroke-width="1.7" stroke-linecap="butt"/>
<line x1="651.2" y1="276.8" x2="719.2" y2="316.0" stroke-width="1.7" stroke-linecap="butt"/>
<line x1="715.5" y1="272.0" x2="715.5" y2="312.8" stroke-width="1.7" stroke-linecap="butt"/>
<polygon points="715.5,272.0 718.4,284.5 712.6,284.5" fill="#000" stroke="none"/>
<polygon points="715.5,312.8 712.6,300.3 718.4,300.3" fill="#000" stroke="none"/>
<line x1="631.5" y1="613.8" x2="631.5" y2="634.0" stroke-width="1.7" stroke-linecap="butt"/>
<line x1="676.8" y1="606.0" x2="676.8" y2="633.0" stroke-width="1.7" stroke-linecap="butt"/>
<line x1="631.8" y1="620.0" x2="676.5" y2="611.0" stroke-width="1.7" stroke-linecap="butt"/>
<polygon points="631.8,620.0 642.5,615.0 643.6,620.5" fill="#000" stroke="none"/>
<polygon points="676.5,611.0 665.8,616.0 664.7,610.5" fill="#000" stroke="none"/>
<line x1="605.0" y1="627.0" x2="631.2" y2="620.2" stroke-width="1.7" stroke-linecap="butt"/>
<polygon points="631.2,620.2 618.9,626.7 617.3,620.5" fill="#000" stroke="none"/>
<line x1="627.3" y1="645.0" x2="627.3" y2="659.0" stroke-width="1.8" stroke-dasharray="8 3" stroke-linecap="butt"/>
<line x1="680.1" y1="645.0" x2="680.1" y2="660.0" stroke-width="1.8" stroke-dasharray="8 3" stroke-linecap="butt"/>
<path d="M623.8,653.7 Q620.3,658 621,664.2 M682.6,654.4 Q686.2,658 685.4,664.2" fill="none" stroke-width="1.8"/>
<path d="M627.3,658.6 Q633,671.5 654.6,672.6 Q675,671.5 680.1,660" fill="none" stroke-width="1.8" stroke-dasharray="9 3"/>
<path d="M622.4,667.7 Q630,673.8 646,675" fill="none" stroke-width="1.8" stroke-dasharray="9 3"/>
<line x1="621.0" y1="664.2" x2="621.0" y2="706.0" stroke-width="1.8" stroke-dasharray="9 3" stroke-linecap="butt"/>
<line x1="685.4" y1="664.2" x2="685.4" y2="706.0" stroke-width="1.8" stroke-dasharray="9 3" stroke-linecap="butt"/>
<ellipse cx="653.3" cy="705" rx="32.3" ry="13.5" fill="none" stroke-width="1.8" stroke-dasharray="10 3.5"/>
<line x1="648.0" y1="660.0" x2="660.0" y2="665.0" stroke-width="1.7" stroke-linecap="butt"/>
<line x1="648.0" y1="665.0" x2="660.0" y2="660.0" stroke-width="1.7" stroke-linecap="butt"/>
<line x1="647.0" y1="701.0" x2="661.0" y2="714.0" stroke-width="1.7" stroke-linecap="butt"/>
<line x1="654.0" y1="696.0" x2="654.0" y2="716.0" stroke-width="1.7" stroke-linecap="butt"/>
<line x1="627.0" y1="720.0" x2="627.0" y2="784.0" stroke-width="1.7" stroke-dasharray="14 4" stroke-linecap="butt"/>
<line x1="680.0" y1="720.0" x2="680.0" y2="769.0" stroke-width="1.7" stroke-dasharray="14 4" stroke-linecap="butt"/>
<line x1="654.3" y1="716.0" x2="654.3" y2="794.0" stroke-width="1.7" stroke-dasharray="16 4 4 4" stroke-linecap="butt"/>
<line x1="654.5" y1="805.0" x2="654.5" y2="860.0" stroke-width="1.7" stroke-linecap="butt"/>
<line x1="627.3" y1="779.9" x2="678.7" y2="766.1" stroke-width="1.7" stroke-linecap="butt"/>
<polygon points="627.3,779.9 637.7,774.2 639.1,779.6" fill="#000" stroke="none"/>
<polygon points="678.7,766.1 668.3,771.8 666.9,766.4" fill="#000" stroke="none"/>
<line x1="694.0" y1="762.5" x2="679.3" y2="766.0" stroke-width="1.7" stroke-linecap="butt"/>
<polygon points="679.3,766.0 691.7,759.8 693.2,766.0" fill="#000" stroke="none"/>
<line x1="680.0" y1="676.0" x2="727.5" y2="704.0" stroke-width="1.7" stroke-linecap="butt"/>
<line x1="672.5" y1="715.0" x2="687.5" y2="726.0" stroke-width="1.7" stroke-linecap="butt"/>
<line x1="705.0" y1="739.0" x2="719.0" y2="746.5" stroke-width="1.7" stroke-linecap="butt"/>
<line x1="715.0" y1="697.5" x2="715.0" y2="742.5" stroke-width="1.7" stroke-linecap="butt"/>
<polygon points="715.0,697.5 717.9,710.0 712.1,710.0" fill="#000" stroke="none"/>
<polygon points="715.0,742.5 712.1,730.0 717.9,730.0" fill="#000" stroke="none"/>
<line x1="801.0" y1="693.0" x2="801.0" y2="672.6" stroke-width="1.7" stroke-linecap="butt"/>
<polygon points="801.0,672.6 804.2,686.1 797.8,686.1" fill="#000" stroke="none"/>
<line x1="801.0" y1="723.6" x2="801.0" y2="739.2" stroke-width="1.7" stroke-linecap="butt"/>
<polygon points="801.0,739.2 797.8,725.7 804.2,725.7" fill="#000" stroke="none"/>
<line x1="766.0" y1="720.0" x2="805.8" y2="742.8" stroke-width="1.7" stroke-linecap="butt"/>
<line x1="766.0" y1="651.0" x2="916.0" y2="737.5" stroke-width="1.7" stroke-linecap="butt"/>
<line x1="815.4" y1="660.6" x2="859.0" y2="685.8" stroke-width="1.7" stroke-dasharray="14 4.5" stroke-linecap="butt"/>
<line x1="821.4" y1="664.0" x2="821.4" y2="815.0" stroke-width="1.7" stroke-dasharray="14 3 6 2.5 12.6 4.8 200 0" stroke-linecap="butt"/>
<line x1="868.0" y1="694.0" x2="868.0" y2="856.0" stroke-width="1.7" stroke-dasharray="12 5 200 0" stroke-linecap="butt"/>
<line x1="754.0" y1="778.5" x2="654.9" y2="805.3" stroke-width="1.7" stroke-linecap="butt"/>
<polygon points="654.9,805.3 667.1,798.7 668.8,804.9" fill="#000" stroke="none"/>
<line x1="787.5" y1="769.5" x2="910.0" y2="735.3" stroke-width="1.7" stroke-linecap="butt"/>
<polygon points="910.0,735.3 897.9,742.0 896.1,735.8" fill="#000" stroke="none"/>
<line x1="500.0" y1="725.0" x2="647.5" y2="812.5" stroke-width="1.7" stroke-linecap="butt"/>
<line x1="583.0" y1="821.5" x2="544.3" y2="832.3" stroke-width="1.7" stroke-linecap="butt"/>
<polygon points="544.3,832.3 556.4,825.6 558.2,831.8" fill="#000" stroke="none"/>
<line x1="605.0" y1="817.5" x2="638.0" y2="808.3" stroke-width="1.7" stroke-linecap="butt"/>
<polygon points="638.0,808.3 625.9,815.0 624.1,808.8" fill="#000" stroke="none"/>
<line x1="515.8" y1="694.0" x2="515.8" y2="724.0" stroke-width="1.7" stroke-linecap="butt"/>
<line x1="515.8" y1="728.0" x2="515.8" y2="772.0" stroke-width="1.7" stroke-linecap="butt"/>
<line x1="515.8" y1="775.0" x2="515.8" y2="820.0" stroke-width="1.7" stroke-linecap="butt"/>
<line x1="515.8" y1="823.0" x2="515.8" y2="895.0" stroke-width="1.7" stroke-linecap="butt"/>
<line x1="578.0" y1="869.5" x2="516.3" y2="886.0" stroke-width="1.7" stroke-linecap="butt"/>
<polygon points="516.3,886.0 528.5,879.4 530.2,885.6" fill="#000" stroke="none"/>
<line x1="604.0" y1="864.0" x2="654.2" y2="850.8" stroke-width="1.7" stroke-linecap="butt"/>
<polygon points="654.2,850.8 642.0,857.3 640.3,851.1" fill="#000" stroke="none"/>
<line x1="720.0" y1="833.5" x2="654.9" y2="850.3" stroke-width="1.7" stroke-linecap="butt"/>
<polygon points="654.9,850.3 667.2,843.8 668.8,850.0" fill="#000" stroke="none"/>
<line x1="761.0" y1="822.5" x2="821.6" y2="807.3" stroke-width="1.7" stroke-linecap="butt"/>
<polygon points="821.6,807.3 809.3,813.7 807.7,807.5" fill="#000" stroke="none"/>
<line x1="394.0" y1="822.5" x2="394.0" y2="976.0" stroke-width="1.7" stroke-linecap="butt"/>
<line x1="627.5" y1="906.0" x2="394.4" y2="967.4" stroke-width="1.7" stroke-linecap="butt"/>
<polygon points="394.4,967.4 406.6,960.9 408.3,967.1" fill="#000" stroke="none"/>
<line x1="664.0" y1="897.0" x2="866.6" y2="844.3" stroke-width="1.7" stroke-linecap="butt"/>
<polygon points="866.6,844.3 854.3,850.8 852.7,844.6" fill="#000" stroke="none"/>
<path d="M999,230 Q994,237 997,246" fill="none" stroke-width="1.2" stroke="#555"/>
<text x="471.09" y="49.83" font-size="19.57" textLength="28.05" lengthAdjust="spacingAndGlyphs" stroke="#000" stroke-width="0.35" stroke-linejoin="round" fill="#000">L2</text>
<text x="633.52" y="57.93" font-size="23.05" textLength="22.30" lengthAdjust="spacingAndGlyphs" stroke="#000" stroke-width="0.35" stroke-linejoin="round" fill="#000">L1</text>
<text x="841.98" y="148.42" font-size="23.64" textLength="16.10" lengthAdjust="spacingAndGlyphs" stroke="#000" stroke-width="0.35" stroke-linejoin="round" fill="#000">B</text>
<text x="149.08" y="542.93" font-size="23.05" textLength="13.34" lengthAdjust="spacingAndGlyphs" stroke="#000" stroke-width="0.35" stroke-linejoin="round" fill="#000">V</text>
<text x="149.08" y="687.93" font-size="23.05" textLength="12.83" lengthAdjust="spacingAndGlyphs" stroke="#000" stroke-width="0.35" stroke-linejoin="round" fill="#000">V</text>
<text x="200.08" y="646.43" font-size="24.51" textLength="12.33" lengthAdjust="spacingAndGlyphs" stroke="#000" stroke-width="0.35" stroke-linejoin="round" fill="#000">V</text>
<text x="55.09" y="560.33" font-size="22.44" textLength="28.05" lengthAdjust="spacingAndGlyphs" stroke="#000" stroke-width="0.35" stroke-linejoin="round" fill="#000">L2</text>
<text x="348.68" y="689.43" font-size="22.33" textLength="20.15" lengthAdjust="spacingAndGlyphs" stroke="#000" stroke-width="0.35" stroke-linejoin="round" fill="#000">M</text>
<text x="469.84" y="655.30" font-size="22.15" textLength="15.21" lengthAdjust="spacingAndGlyphs" stroke="#000" stroke-width="0.35" stroke-linejoin="round" fill="#000">U</text>
<text x="520.72" y="515.43" font-size="22.72" textLength="26.34" lengthAdjust="spacingAndGlyphs" stroke="#000" stroke-width="0.35" stroke-linejoin="round" fill="#000">L2</text>
<text x="733.24" y="589.93" font-size="22.33" textLength="19.53" lengthAdjust="spacingAndGlyphs" stroke="#000" stroke-width="0.35" stroke-linejoin="round" fill="#000">M</text>
<text x="898.33" y="594.43" font-size="23.05" textLength="14.94" lengthAdjust="spacingAndGlyphs" stroke="#000" stroke-width="0.35" stroke-linejoin="round" fill="#000">E</text>
<text x="575.24" y="387.93" font-size="20.87" textLength="19.53" lengthAdjust="spacingAndGlyphs" stroke="#000" stroke-width="0.35" stroke-linejoin="round" fill="#000">M</text>
<text x="722.44" y="304.43" font-size="21.75" textLength="22.78" lengthAdjust="spacingAndGlyphs" stroke="#000" stroke-width="0.35" stroke-linejoin="round" fill="#000">E1</text>
<text x="586.65" y="639.20" font-size="22.40" textLength="15.25" lengthAdjust="spacingAndGlyphs" stroke="#000" stroke-width="0.35" stroke-linejoin="round" fill="#000">S</text>
<text x="719.46" y="732.93" font-size="23.05" textLength="25.36" lengthAdjust="spacingAndGlyphs" stroke="#000" stroke-width="0.35" stroke-linejoin="round" fill="#000">E1</text>
<text x="794.47" y="715.62" font-size="21.31" textLength="12.59" lengthAdjust="spacingAndGlyphs" stroke="#000" stroke-width="0.35" stroke-linejoin="round" fill="#000">F</text>
<text x="762.52" y="781.20" font-size="22.72" textLength="15.46" lengthAdjust="spacingAndGlyphs" stroke="#000" stroke-width="0.35" stroke-linejoin="round" fill="#000">U</text>
<text x="587.15" y="828.43" font-size="21.60" textLength="14.22" lengthAdjust="spacingAndGlyphs" stroke="#000" stroke-width="0.35" stroke-linejoin="round" fill="#000">T</text>
<text x="640.87" y="909.93" font-size="22.33" textLength="12.20" lengthAdjust="spacingAndGlyphs" stroke="#000" stroke-width="0.35" stroke-linejoin="round" fill="#000">L</text>
<text x="718.46" y="190.70" font-size="19.20" font-weight="bold" textLength="16.51" lengthAdjust="spacingAndGlyphs" stroke="#000" stroke-width="1.2" stroke-linejoin="round" fill="#000">D</text>
<text x="11.01" y="539.90" font-size="21.53" font-weight="bold" textLength="16.96" lengthAdjust="spacingAndGlyphs" stroke="#000" stroke-width="1.2" stroke-linejoin="round" fill="#000">H</text>
<text x="596.63" y="537.50" font-size="21.82" font-weight="bold" textLength="15.76" lengthAdjust="spacingAndGlyphs" stroke="#000" stroke-width="1.2" stroke-linejoin="round" fill="#000">R</text>
<text x="895.13" y="485.50" font-size="21.09" font-weight="bold" textLength="15.68" lengthAdjust="spacingAndGlyphs" stroke="#000" stroke-width="1.2" stroke-linejoin="round" fill="#000">D</text>
<text x="951.73" y="404.50" font-size="20.36" font-weight="bold" textLength="14.62" lengthAdjust="spacingAndGlyphs" stroke="#000" stroke-width="1.2" stroke-linejoin="round" fill="#000">R</text>
<text x="951.73" y="555.00" font-size="20.36" font-weight="bold" textLength="14.62" lengthAdjust="spacingAndGlyphs" stroke="#000" stroke-width="1.2" stroke-linejoin="round" fill="#000">R</text>
<text x="698.08" y="767.50" font-size="19.64" font-weight="bold" textLength="16.27" lengthAdjust="spacingAndGlyphs" stroke="#000" stroke-width="1.2" stroke-linejoin="round" fill="#000">D</text>
<text x="581.07" y="875.00" font-size="21.82" font-weight="bold" textLength="16.33" lengthAdjust="spacingAndGlyphs" stroke="#000" stroke-width="1.2" stroke-linejoin="round" fill="#000">R</text>
<text x="726.60" y="836.00" font-size="23.27" font-weight="bold" textLength="25.96" lengthAdjust="spacingAndGlyphs" stroke="#000" stroke-width="1.2" stroke-linejoin="round" fill="#000">L1</text>
<text x="440.23" y="129.10" font-size="20.95" font-weight="bold" textLength="15.76" lengthAdjust="spacingAndGlyphs" stroke="#000" stroke-width="1.2" stroke-linejoin="round" fill="#000">R</text>
<text x="462.40" y="129.10" font-size="20.65" font-weight="bold" textLength="14.25" lengthAdjust="spacingAndGlyphs" stroke="#000" stroke-width="1.2" stroke-linejoin="round" fill="#000">2</text>
<line x1="464.2" y1="110.2" x2="457.3" y2="134.8" stroke-width="1.5" stroke-linecap="butt"/>
<text x="509.13" y="112.40" font-size="19.35" font-weight="bold" textLength="15.76" lengthAdjust="spacingAndGlyphs" stroke="#000" stroke-width="1.2" stroke-linejoin="round" fill="#000">R</text>
<text x="531.20" y="112.40" font-size="19.07" font-weight="bold" textLength="14.25" lengthAdjust="spacingAndGlyphs" stroke="#000" stroke-width="1.2" stroke-linejoin="round" fill="#000">2</text>
<line x1="533.1" y1="94.6" x2="526.2" y2="118.1" stroke-width="1.5" stroke-linecap="butt"/>
<text x="576.13" y="98.90" font-size="21.53" font-weight="bold" textLength="15.76" lengthAdjust="spacingAndGlyphs" stroke="#000" stroke-width="1.2" stroke-linejoin="round" fill="#000">R</text>
<text x="598.20" y="98.90" font-size="21.22" font-weight="bold" textLength="14.25" lengthAdjust="spacingAndGlyphs" stroke="#000" stroke-width="1.2" stroke-linejoin="round" fill="#000">2</text>
<line x1="600.1" y1="79.6" x2="593.2" y2="104.6" stroke-width="1.5" stroke-linecap="butt"/>
<text x="680.13" y="158.90" font-size="20.07" font-weight="bold" textLength="15.76" lengthAdjust="spacingAndGlyphs" stroke="#000" stroke-width="1.2" stroke-linejoin="round" fill="#000">R</text>
<text x="702.20" y="158.90" font-size="19.78" font-weight="bold" textLength="14.25" lengthAdjust="spacingAndGlyphs" stroke="#000" stroke-width="1.2" stroke-linejoin="round" fill="#000">2</text>
<line x1="704.1" y1="140.6" x2="697.2" y2="164.6" stroke-width="1.5" stroke-linecap="butt"/>
</svg>
</body></html>
